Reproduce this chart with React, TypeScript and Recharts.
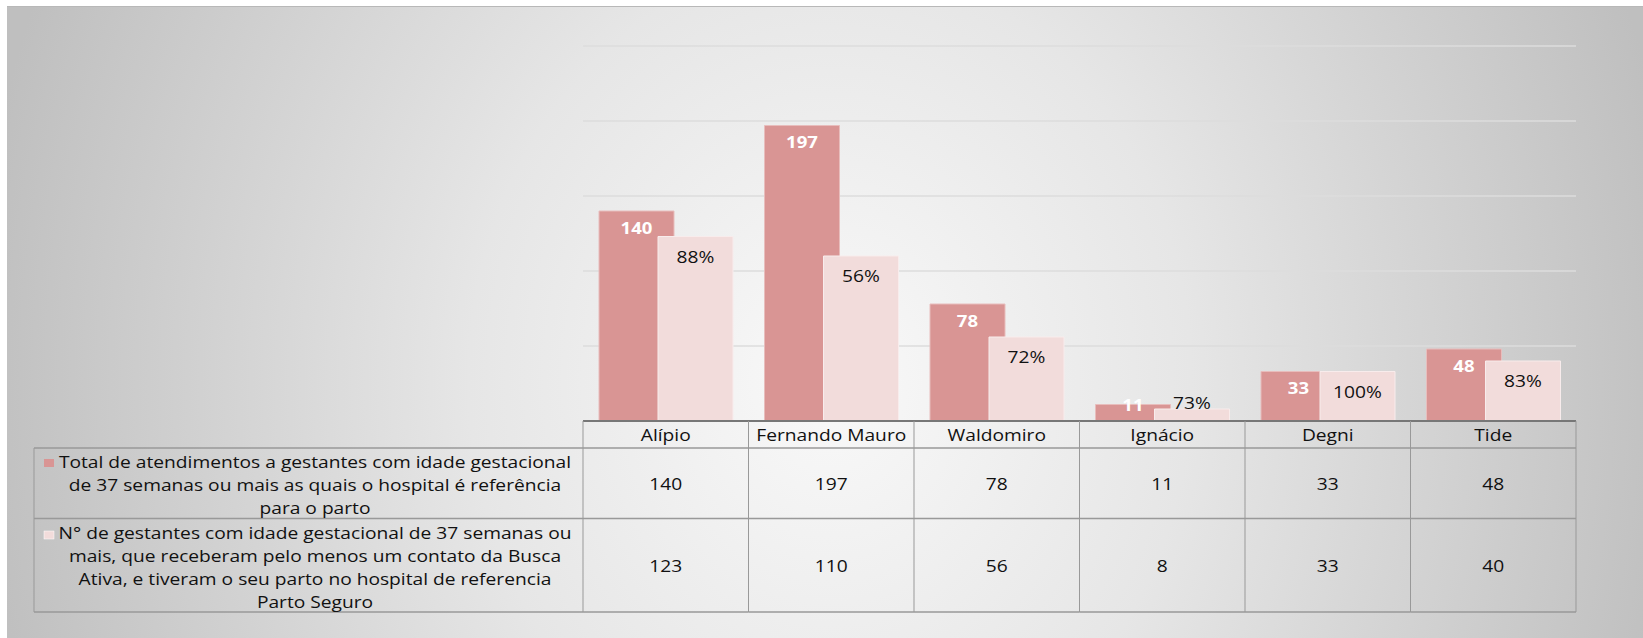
import { BarChart, Bar, XAxis, YAxis, CartesianGrid, LabelList } from "recharts";

const categories = ["Alípio", "Fernando Mauro", "Waldomiro", "Ignácio", "Degni", "Tide"];
const totalAtendimentos = [140, 197, 78, 11, 33, 48];
const gestantesBusca = [123, 110, 56, 8, 33, 40];
const percentLabels = ["88%", "56%", "72%", "73%", "100%", "83%"];
const yTicks = [0, 50, 100, 150, 200, 250];

const legendTotal = [
  "Total de atendimentos a gestantes com idade gestacional",
  "de 37 semanas ou mais as quais o hospital é referência",
  "para o parto",
];
const legendBusca = [
  "N° de gestantes com idade gestacional de 37 semanas ou",
  "mais, que receberam pelo menos um contato da Busca",
  "Ativa, e tiveram o seu parto no hospital de referencia",
  "Parto Seguro",
];

const data = categories.map((name, i) => ({
  name,
  total: totalAtendimentos[i],
  busca: gestantesBusca[i],
}));

const W = 1643;
const H = 638;
const M = { top: 46, right: 67, bottom: 0, left: 583 };
const PLOT_W = W - M.left - M.right;
const HALF = PLOT_W / categories.length / 2;
const DARK = "#d99594";
const LIGHT = "#f2dcdb";
const LINE = "#999";
const FONT = "'Open Sans', 'Noto Sans', sans-serif";
const SX = 1.2; // text in the original is stretched horizontally

function Txt({ x, y, size, anchor = "middle", weight = "normal", fill = "#111", children }: any) {
  return (
    <text
      transform={`translate(${x},${y}) scale(${SX},1)`}
      textAnchor={anchor}
      fontFamily={FONT}
      fontSize={size}
      fontWeight={weight}
      fill={fill}
    >
      {children}
    </text>
  );
}

function TableTick(props: any) {
  const { x, y, payload } = props;
  const i = categories.indexOf(payload.value);
  const left = x - HALF;
  const right = x + HALF;
  const r1 = y + 27;
  const r2 = y + 97.5;
  const r3 = y + 191;
  return (
    <g>
      <line x1={left} x2={left} y1={y} y2={r3} stroke={LINE} />
      {i === categories.length - 1 && <line x1={right} x2={right} y1={y} y2={r3} stroke={LINE} />}
      <line x1={left} x2={right} y1={r1} y2={r1} stroke={LINE} strokeWidth={1.5} />
      <line x1={left} x2={right} y1={r2} y2={r2} stroke={LINE} strokeWidth={1.5} />
      <line x1={left} x2={right} y1={r3} y2={r3} stroke={LINE} strokeWidth={1.5} />
      <Txt x={x} y={y + 20} size={16}>{payload.value}</Txt>
      <Txt x={x} y={y + 69} size={16}>{totalAtendimentos[i]}</Txt>
      <Txt x={x} y={y + 151} size={16}>{gestantesBusca[i]}</Txt>
      {i === 0 && (
        <g>
          <line x1={34} x2={left} y1={r1} y2={r1} stroke={LINE} strokeWidth={1.5} />
          <line x1={34} x2={left} y1={r2} y2={r2} stroke={LINE} strokeWidth={1.5} />
          <line x1={34} x2={left} y1={r3} y2={r3} stroke={LINE} strokeWidth={1.5} />
          <line x1={34} x2={34} y1={r1} y2={r3} stroke={LINE} />
          <rect x={44} y={y + 38} width={10} height={8} fill={DARK} />
          <rect x={44} y={y + 110} width={10} height={8} fill={LIGHT} stroke="#fff" strokeWidth={0.5} />
          {legendTotal.map((t, k) => (
            <Txt key={t} x={315} y={y + 47 + k * 23} size={16}>{t}</Txt>
          ))}
          {legendBusca.map((t, k) => (
            <Txt key={t} x={315} y={y + 118 + k * 23} size={16}>{t}</Txt>
          ))}
        </g>
      )}
    </g>
  );
}

const darkLabel = (p: any) => {
  const { x, y, width, height, value } = p;
  const cy = Math.min(y + 17, y + height - 16);
  return (
    <Txt x={x + width / 2} y={cy + 5.5} size={15.5} weight="bold" fill="#fff">{value}</Txt>
  );
};

const lightLabel = (p: any) => {
  const { x, y, width, height, index } = p;
  const cy = Math.min(y + 20.5, y + height - 18);
  return (
    <Txt x={x + width / 2} y={cy + 5.7} size={16} fill="#111">{percentLabels[index]}</Txt>
  );
};

export default function App() {
  return (
    <div style={{ position: "absolute", left: 0, top: 0, width: W, height: H, background: "#fff", overflow: "hidden" }}>
      <div
        style={{
          position: "absolute",
          left: 7,
          top: 6,
          right: 0,
          bottom: 0,
          borderTop: "1px solid #b8b8b8",
          background: "radial-gradient(ellipse 860px 1000px at 823px 374px, #f9f9f9 0%, #e6e6e6 42%, #bfbfbf 100%)",
        }}
      />
      <div style={{ position: "absolute", left: 0, top: 0 }}>
        <BarChart width={W} height={H} data={data} margin={M} barSize={75} barGap={-16}>
          <CartesianGrid vertical={false} stroke="#dcdcdc" strokeWidth={1.5} />
          <YAxis hide domain={[0, 250]} ticks={yTicks} />
          <XAxis
            dataKey="name"
            height={217}
            interval={0}
            tickSize={0}
            tickMargin={0}
            tickLine={false}
            axisLine={{ stroke: "#777", strokeWidth: 2 }}
            tick={<TableTick />}
          />
          <Bar dataKey="total" fill={DARK} stroke="#e8bdbc" strokeWidth={1} isAnimationActive={false}>
            <LabelList dataKey="total" content={darkLabel} />
          </Bar>
          <Bar dataKey="busca" fill={LIGHT} stroke="#f8ecec" strokeWidth={1} isAnimationActive={false}>
            <LabelList dataKey="busca" content={lightLabel} />
          </Bar>
        </BarChart>
      </div>
    </div>
  );
}
